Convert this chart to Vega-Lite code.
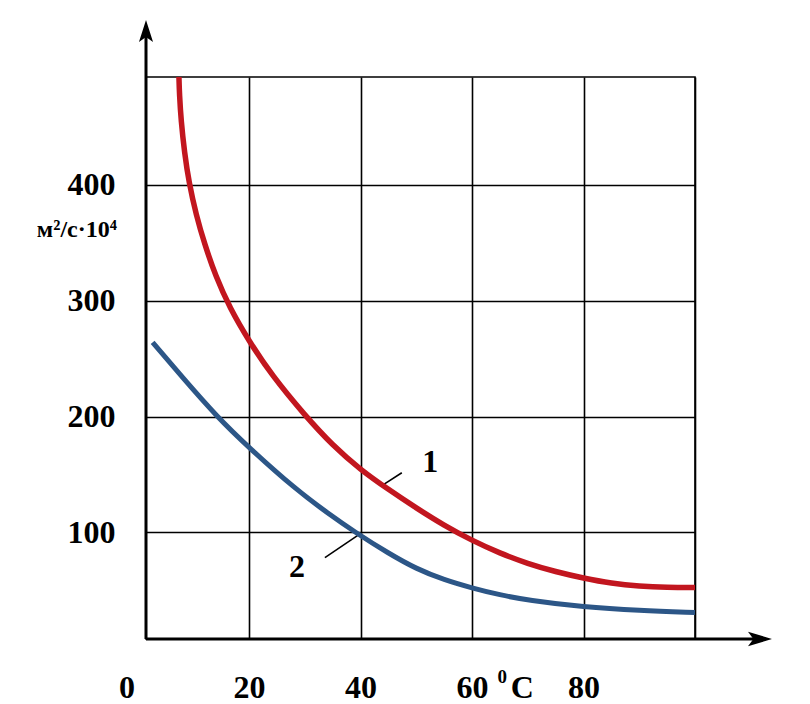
{
  "$schema": "https://vega.github.io/schema/vega-lite/v6.json",
  "autosize": {"type": "none"},
  "width": 549,
  "height": 562,
  "padding": {"left": 146, "top": 77, "right": 115, "bottom": 65},
  "background": "#ffffff",
  "config": {
    "view": {"stroke": "#000000", "strokeWidth": 1.6},
    "axis": {
      "domain": false,
      "ticks": false,
      "grid": true,
      "gridColor": "#000000",
      "gridWidth": 1.6,
      "gridOpacity": 1,
      "title": null,
      "labelFont": "Liberation Serif",
      "labelFontWeight": "bold",
      "labelFontSize": 32,
      "labelColor": "#000000"
    }
  },
  "datasets": {
    "red": [
      {"x": 7.41, "y": 493},
      {"x": 7.5, "y": 478},
      {"x": 7.8, "y": 455},
      {"x": 8.4, "y": 428},
      {"x": 9.2, "y": 402},
      {"x": 10.5, "y": 374},
      {"x": 12.0, "y": 349},
      {"x": 14.0, "y": 321},
      {"x": 16.5, "y": 294},
      {"x": 20.0, "y": 265},
      {"x": 24.0, "y": 236},
      {"x": 30.0, "y": 201},
      {"x": 35.0, "y": 175},
      {"x": 40.0, "y": 154},
      {"x": 45.0, "y": 137},
      {"x": 50.0, "y": 121},
      {"x": 55.0, "y": 106},
      {"x": 60.0, "y": 93},
      {"x": 65.0, "y": 82},
      {"x": 70.0, "y": 73},
      {"x": 75.0, "y": 66},
      {"x": 80.0, "y": 60.5},
      {"x": 85.0, "y": 56},
      {"x": 90.0, "y": 53.5},
      {"x": 95.0, "y": 52.5},
      {"x": 100.0, "y": 52.5}
    ],
    "blue": [
      {"x": 2.69, "y": 264},
      {"x": 8.0, "y": 234},
      {"x": 14.2, "y": 200},
      {"x": 20.0, "y": 173},
      {"x": 28.4, "y": 137},
      {"x": 34.0, "y": 117},
      {"x": 39.2, "y": 99.5},
      {"x": 45.0, "y": 82},
      {"x": 50.0, "y": 68.5},
      {"x": 55.0, "y": 59},
      {"x": 60.0, "y": 52},
      {"x": 65.0, "y": 46},
      {"x": 70.0, "y": 41.5},
      {"x": 80.0, "y": 35.5},
      {"x": 90.0, "y": 32.5},
      {"x": 100.0, "y": 30.8}
    ],
    "axes": [
      {"x": 1.5, "y": 8, "x2": 1.5, "y2": 537},
      {"x": 1.5, "y": 8, "x2": 112.7, "y2": 8}
    ],
    "leaders": [
      {"x": 44.23, "y": 141.6, "x2": 47.4, "y2": 151.5},
      {"x": 33.6, "y": 78.2, "x2": 39.5, "y2": 97.4}
    ],
    "labels": [
      {"x": 52.5, "y": 160.9, "t": "1"},
      {"x": 28.6, "y": 70.2, "t": "2"},
      {"x": -1.91, "y": -34.3, "t": "0"},
      {"x": 69.0, "y": -34.3, "t": "C"}
    ],
    "sup": [
      {"x": 65.4, "y": -24.8, "t": "0"}
    ],
    "unit": [
      {"x": -10.9, "y": 361, "t": "м²/с·10⁴"}
    ],
    "arrowUp": [{"x": 1.5, "y": 532.7}],
    "arrowRight": [{"x": 111.66, "y": 8}]
  },
  "layer": [
    {
      "data": {"name": "leaders"},
      "mark": {"type": "rule", "color": "#000000", "strokeWidth": 1.6, "clip": false},
      "encoding": {
        "x": {"field": "x", "type": "quantitative", "scale": {"domain": [1.5, 100], "nice": false, "zero": false},
          "axis": {"values": [20, 40, 60, 80, 100], "labelExpr": "datum.value == 100 ? '' : datum.label", "labelPadding": 48, "labelBaseline": "middle"}},
        "y": {"field": "y", "type": "quantitative", "scale": {"domain": [8, 493], "nice": false, "zero": false},
          "axis": {"values": [100, 200, 300, 400], "labelPadding": 31}},
        "x2": {"field": "x2"},
        "y2": {"field": "y2"}
      }
    },
    {
      "data": {"name": "red"},
      "mark": {"type": "line", "color": "#c2161f", "strokeWidth": 5.5, "interpolate": "basis", "clip": false},
      "encoding": {
        "x": {"field": "x", "type": "quantitative"},
        "y": {"field": "y", "type": "quantitative"}
      }
    },
    {
      "data": {"name": "blue"},
      "mark": {"type": "line", "color": "#2c5687", "strokeWidth": 5, "interpolate": "basis", "clip": false},
      "encoding": {
        "x": {"field": "x", "type": "quantitative"},
        "y": {"field": "y", "type": "quantitative"}
      }
    },
    {
      "data": {"name": "axes"},
      "mark": {"type": "rule", "color": "#000000", "strokeWidth": 3, "clip": false},
      "encoding": {
        "x": {"field": "x", "type": "quantitative"},
        "y": {"field": "y", "type": "quantitative"},
        "x2": {"field": "x2"},
        "y2": {"field": "y2"}
      }
    },
    {
      "data": {"name": "arrowUp"},
      "mark": {"type": "point", "shape": "M0,-1 L0.64,1 L0,0.55 L-0.64,1 Z", "size": 484, "filled": true, "color": "#000000", "opacity": 1, "clip": false},
      "encoding": {
        "x": {"field": "x", "type": "quantitative"},
        "y": {"field": "y", "type": "quantitative"}
      }
    },
    {
      "data": {"name": "arrowRight"},
      "mark": {"type": "point", "shape": "M1,0 L-1,0.6 L-0.55,0 L-1,-0.6 Z", "size": 576, "filled": true, "color": "#000000", "opacity": 1, "clip": false},
      "encoding": {
        "x": {"field": "x", "type": "quantitative"},
        "y": {"field": "y", "type": "quantitative"}
      }
    },
    {
      "data": {"name": "labels"},
      "mark": {"type": "text", "font": "Liberation Serif", "fontWeight": "bold", "fontSize": 32, "color": "#000000", "align": "center", "baseline": "middle", "clip": false},
      "encoding": {
        "x": {"field": "x", "type": "quantitative"},
        "y": {"field": "y", "type": "quantitative"},
        "text": {"field": "t"}
      }
    },
    {
      "data": {"name": "sup"},
      "mark": {"type": "text", "font": "Liberation Serif", "fontWeight": "bold", "fontSize": 19, "color": "#000000", "align": "center", "baseline": "middle", "clip": false},
      "encoding": {
        "x": {"field": "x", "type": "quantitative"},
        "y": {"field": "y", "type": "quantitative"},
        "text": {"field": "t"}
      }
    },
    {
      "data": {"name": "unit"},
      "mark": {"type": "text", "font": "Liberation Serif", "fontWeight": "bold", "fontSize": 24, "color": "#000000", "align": "center", "baseline": "middle", "clip": false},
      "encoding": {
        "x": {"field": "x", "type": "quantitative"},
        "y": {"field": "y", "type": "quantitative"},
        "text": {"field": "t"}
      }
    }
  ]
}
